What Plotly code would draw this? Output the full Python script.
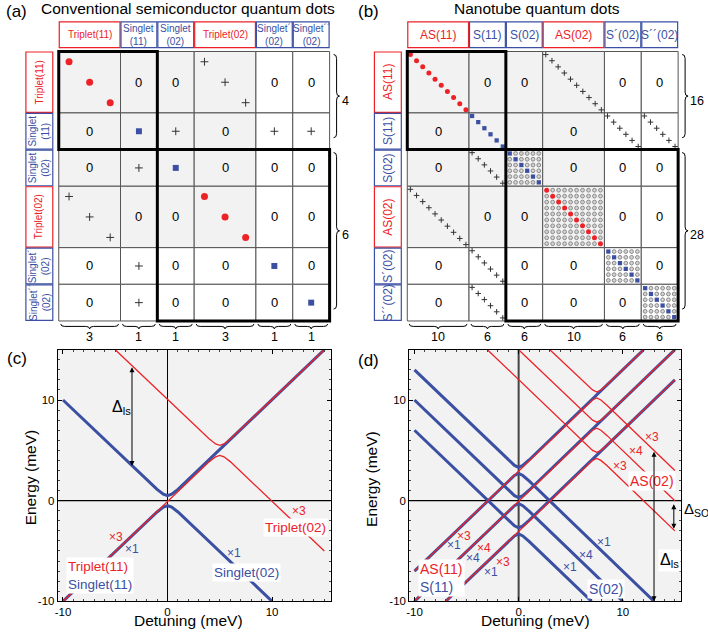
import plotly.graph_objects as go

W, H = 708, 641
RED = "#ec2227"
BLUE = "#3b50a3"
GREY = "#f2f2f2"
FONT = "Liberation Sans, Arial, Helvetica, sans-serif"

# ---------------------------------------------------------------------------
# Matrix data (panels a, b)
# ---------------------------------------------------------------------------
A_LABELS = ["Triplet(11)", "Singlet<br>(11)", "Singlet<br>(02)", "Triplet(02)",
            "Singlet´<br>(02)", "Singlet´´<br>(02)"]
A_KINDS = ["T", "S", "S", "T", "S", "S"]
A_DIMS = [3, 1, 1, 3, 1, 1]
A_GROUPS = [4, 6]
A_BLOCKS = [
    ["dr", "0", "0", "+", "0", "0"],
    ["0", "db", "+", "0", "+", "+"],
    ["0", "+", "db", "0", "0", "0"],
    ["+", "0", "0", "dr", "0", "0"],
    ["0", "+", "0", "0", "db", "0"],
    ["0", "+", "0", "0", "0", "db"],
]

B_LABELS = ["AS(11)", "S(11)", "S(02)", "AS(02)", "S´(02)", "S´´(02)"]
B_KINDS = ["T", "S", "S", "T", "S", "S"]
B_DIMS = [10, 6, 6, 10, 6, 6]
B_GROUPS = [16, 28]
B_BLOCKS = [
    ["dr", "0", "0", "+", "0", "0"],
    ["0", "db", "", "0", "+", "+"],
    ["0", "+", "fb", "0", "0", "0"],
    ["+", "0", "0", "fr", "0", "0"],
    ["0", "+", "0", "0", "fb", "0"],
    ["0", "+", "0", "0", "0", "fb"],
]

# ---------------------------------------------------------------------------
# Energy levels (meV) vs detuning (meV), panel c
# ---------------------------------------------------------------------------
C_BLUE_X = [[-10, -1, -0.4, 0, 0.4, 1, 15],
            [-10, -1, -0.4, 0, 0.4, 1, 10]]
C_BLUE_Y = [[10, 1.12, 0.64, 0.5, 0.64, 1.12, 15],
            [-10, -1.12, -0.64, -0.5, -0.64, -1.12, -10]]
C_RED_X = [[-5, 4, 4.6, 5, 5.4, 6, 15],
           [-10, 4, 4.6, 5, 5.4, 6, 15]]
C_RED_Y = [[15, 6.12, 5.64, 5.5, 5.64, 6.12, 15],
           [-10, 3.88, 4.36, 4.5, 4.36, 3.88, -5]]

# panel d
D_BLUE_X = [[-10, -1, -0.4, 0, 0.4, 1, 12],
            [-10, -1, -0.4, 0, 0.4, 1, 15],
            [-10, -1, -0.4, 0, 0.4, 1, 15],
            [-10, -1, -0.4, 0, 0.4, 1, 13],
            [-10, -1, -0.4, 0, 0.4, 1, 10],
            [-7, -1, -0.4, 0, 0.4, 1, 7]]
D_BLUE_Y = [[13, 4.04, 3.5, 3.3, 3.5, 4.04, 15],
            [10, 1.04, 0.5, 0.3, 0.5, 1.04, 15],
            [7, -1.96, -2.5, -2.7, -2.5, -1.96, 12],
            [-7, 1.96, 2.5, 2.7, 2.5, 1.96, -10],
            [-10, -1.04, -0.5, -0.3, -0.5, -1.04, -10],
            [-10, -4.04, -3.5, -3.3, -3.5, -4.04, -10]]
D_RED_X = [[3, 6.5, 7.1, 7.5, 7.9, 8.5, 12],
           [0, 6.5, 7.1, 7.5, 7.9, 8.5, 15],
           [-3, 6.5, 7.1, 7.5, 7.9, 8.5, 15],
           [-10, 6.5, 7.1, 7.5, 7.9, 8.5, 15],
           [-10, 6.5, 7.1, 7.5, 7.9, 8.5, 15],
           [-7, 6.5, 7.1, 7.5, 7.9, 8.5, 15]]
D_RED_Y = [[15, 11.54, 11.0, 10.8, 11.0, 11.54, 15],
           [15, 8.54, 8.0, 7.8, 8.0, 8.54, 15],
           [15, 5.54, 5.0, 4.8, 5.0, 5.54, 12],
           [-7, 9.46, 10.0, 10.2, 10.0, 9.46, 3],
           [-10, 6.46, 7.0, 7.2, 7.0, 6.46, 0],
           [-10, 3.46, 4.0, 4.2, 4.0, 3.46, -3]]

fig = go.Figure()
shapes = []
annos = []


def text_px(x, y, text, size, color="black", **kw):
    annos.append(dict(x=x, y=y, xref="x3", yref="y3", text=text, showarrow=False,
                      font=dict(size=size, color=color, family=FONT), **kw))


def rect_px(x0, y0, x1, y1, fill, color, width, layer="below"):
    shapes.append(dict(type="rect", xref="x3", yref="y3", x0=x0, y0=y0, x1=x1, y1=y1,
                       fillcolor=fill, line=dict(color=color, width=width), layer=layer))


def path_px(d):
    shapes.append(dict(type="path", xref="x3", yref="y3", path=d,
                       line=dict(color="black", width=1), layer="above"))


def matrix(x0, y0, labels, kinds, dims, blocks, groups, hdr, ms):
    big = max(dims)
    sizes = [62 if d == big else 37 for d in dims]
    xe, ye = [x0], [y0]
    for s in sizes:
        xe.append(xe[-1] + s)
        ye.append(ye[-1] + s)
    n = len(dims)
    marks = {k: ([], []) for k in ("dot", "sq", "plus", "ring")}

    for i in range(n):
        for j in range(n):
            fill = GREY if (i < 4 and j < 4) else "white"
            rect_px(xe[j], ye[i], xe[j + 1], ye[i + 1], fill, "#555", 1)
            b = blocks[i][j]
            d = dims[i]
            w, h = sizes[j], sizes[i]
            if b == "0":
                text_px((xe[j] + xe[j + 1]) / 2, (ye[i] + ye[i + 1]) / 2, "0", 13)
            elif b in ("+", "dr", "db"):
                key = {"+": "plus", "dr": "dot", "db": "sq"}[b]
                for k in range(d):
                    marks[key][0].append(xe[j] + (k + 0.5) * w / d)
                    marks[key][1].append(ye[i] + (k + 0.5) * h / d)
            elif b in ("fr", "fb"):
                for k in range(d):
                    for m in range(d):
                        key = ("dot" if b == "fr" else "sq") if k == m else "ring"
                        marks[key][0].append(xe[j] + 1 + (m + 0.5) * (w - 2) / d)
                        marks[key][1].append(ye[i] + 1 + (k + 0.5) * (h - 2) / d)

    # thick block borders
    acc, split = 0, 0
    while acc < groups[0]:
        acc += dims[split]
        split += 1
    rect_px(xe[0], ye[0], xe[split], ye[split], "rgba(0,0,0,0)", "black", 3, "above")
    rect_px(xe[split], ye[split], xe[n], ye[n], "rgba(0,0,0,0)", "black", 3, "above")

    # headers and row labels
    for j in range(n):
        col = RED if kinds[j] == "T" else BLUE
        rect_px(xe[j] + 0.5, y0 - 30, xe[j + 1] - 0.5, y0 - 4, "white", col, 1.2)
        text_px((xe[j] + xe[j + 1]) / 2, y0 - 17, labels[j], hdr, col)
        rect_px(x0 - 33, ye[j] + 0.5, x0 - 6, ye[j + 1] - 0.5, "white", col, 1.2)
        text_px(x0 - 19.5, (ye[j] + ye[j + 1]) / 2, labels[j], hdr, col, textangle=-90)

    # bottom braces with dimensions
    yb = ye[n] + 3
    for j in range(n):
        a, c = xe[j] + 2, xe[j + 1] - 2
        m = (a + c) / 2
        path_px(f"M {a},{yb} Q {a},{yb+2.5} {a+4},{yb+2.5} L {m-4},{yb+2.5} "
                f"Q {m},{yb+2.5} {m},{yb+5} Q {m},{yb+2.5} {m+4},{yb+2.5} "
                f"L {c-4},{yb+2.5} Q {c},{yb+2.5} {c},{yb}")
        text_px(m, ye[n] + 16, str(dims[j]), 12.5)

    # right braces with group sizes
    xr = xe[n] + 4
    for (r0, r1), g in zip([(0, split), (split, n)], groups):
        a, c = ye[r0] + 3, ye[r1] - 12
        m = (a + c) / 2
        path_px(f"M {xr},{a} Q {xr+3},{a} {xr+3},{a+4} L {xr+3},{m-4} "
                f"Q {xr+3},{m} {xr+6},{m} Q {xr+3},{m} {xr+3},{m+4} "
                f"L {xr+3},{c-4} Q {xr+3},{c} {xr},{c}")
        text_px(xr + 7, (ye[r0] + ye[r1]) / 2, str(g), 12.5, xanchor="left",
                borderpad=0)

    styles = {
        "ring": dict(symbol="circle", size=ms * 0.75, color="#d4d4d4",
                     line=dict(color="#8a8a8a", width=1)),
        "dot": dict(symbol="circle", size=ms, color=RED, line=dict(width=0)),
        "sq": dict(symbol="square", size=ms * 0.85, color=BLUE, line=dict(width=0)),
        "plus": dict(symbol="cross-thin", size=ms * 0.8, color="#333",
                     line=dict(color="#333", width=1)),
    }
    for key, (xs, ys) in marks.items():
        if xs:
            fig.add_trace(go.Scatter(x=xs, y=ys, mode="markers", marker=styles[key],
                                     xaxis="x3", yaxis="y3", hoverinfo="skip"))


matrix(56, 52, A_LABELS, A_KINDS, A_DIMS, A_BLOCKS, A_GROUPS, 10, 7)
matrix(406, 52, B_LABELS, B_KINDS, B_DIMS, B_BLOCKS, B_GROUPS, 12, 5)

text_px(1, 12, "(a)", 17, xanchor="left")
text_px(186, 9, "Conventional semiconductor quantum dots", 15.5)
text_px(354, 12, "(b)", 17, xanchor="left")
text_px(536, 9, "Nanotube quantum dots", 15.5)
text_px(2, 362, "(c)", 17, xanchor="left")
text_px(354, 364, "(d)", 17, xanchor="left")

# axis titles
text_px(186, 626, "Detuning (meV)", 15.5)
text_px(535, 626, "Detuning (meV)", 15.5)
text_px(28, 482, "Energy (meV)", 15.5, textangle=-90)
text_px(370, 483, "Energy (meV)", 15.5, textangle=-90)
text_px(683, 514, "Δ<sub>SO</sub>", 15, xanchor="left", borderpad=0)


# ---------------------------------------------------------------------------
# Energy panels
# ---------------------------------------------------------------------------
def curves(xs_list, ys_list, color, width, xa, ya):
    for xs, ys in zip(xs_list, ys_list):
        fig.add_trace(go.Scatter(x=xs, y=ys, mode="lines",
                                 line=dict(color=color, width=width),
                                 xaxis=xa, yaxis=ya, hoverinfo="skip"))


for xa, ya, vcol, vw in (("x", "y", "black", 1), ("x2", "y2", "#444", 2)):
    sfx = xa[1:]
    shapes.append(dict(type="rect", xref=f"x{sfx} domain", yref=f"y{sfx} domain",
                       x0=0, x1=1, y0=0, y1=1, fillcolor=GREY, line=dict(width=0),
                       layer="below"))
    shapes.append(dict(type="line", xref=xa, yref=f"y{sfx} domain", x0=0, x1=0,
                       y0=0, y1=1, line=dict(color=vcol, width=vw), layer="below"))
    shapes.append(dict(type="line", xref=f"x{sfx} domain", yref=ya, x0=0, x1=1,
                       y0=0, y1=0, line=dict(color="black", width=1.2), layer="below"))

curves(C_BLUE_X, C_BLUE_Y, BLUE, 3, "x", "y")
curves(C_RED_X, C_RED_Y, RED, 1.3, "x", "y")
curves(D_BLUE_X, D_BLUE_Y, BLUE, 3, "x2", "y2")
curves(D_RED_X, D_RED_Y, RED, 1.3, "x2", "y2")


def note(xa, ya, x, y, text, color, size=12, **kw):
    annos.append(dict(x=x, y=y, xref=xa, yref=ya, text=text, showarrow=False,
                      font=dict(size=size, color=color, family=FONT), **kw))


def span(text, color):
    return f"<span style='color:{color}'>{text}</span>"


def darrow(xa, ya, x, y0, y1):
    annos.append(dict(x=x, y=y0, ax=x, ay=y1, xref=xa, yref=ya, axref=xa, ayref=ya,
                      text="", showarrow=True, arrowhead=2, arrowside="end+start",
                      arrowsize=1, arrowwidth=1, arrowcolor="black"))


# panel c labels
note("x", "y", -4.9, -3.6, "×3", RED)
note("x", "y", -3.4, -4.8, "×1", BLUE)
note("x", "y", 12.6, -1.0, "×3", RED)
note("x", "y", 6.4, -5.2, "×1", BLUE)
note("x", "y", -6.5, -7.4, span("Triplet(11)", RED) + "<br>" + span("Singlet(11)", BLUE),
     "black", 13.5, align="left", bgcolor="white", borderpad=1)
note("x", "y", 12.2, -2.7, "Triplet(02)", RED, 13.5, bgcolor="white", borderpad=1)
note("x", "y", 7.6, -7.1, "Singlet(02)", BLUE, 13.5, bgcolor="white", borderpad=1)
darrow("x", "y", -3.4, 3.44, 13.4)
note("x", "y", -5.5, 9.3, "Δ<sub>ls</sub>", "black", 16, xanchor="left")

# panel d labels
note("x2", "y2", 12.8, 6.3, "×3", RED)
note("x2", "y2", 11.3, 4.9, "×4", RED)
note("x2", "y2", 9.7, 3.4, "×3", RED)
note("x2", "y2", 12.8, 2.0, "AS(02)", RED, 14, bgcolor="white", borderpad=1)
note("x2", "y2", -5.2, -3.5, "×3", RED)
note("x2", "y2", -6.2, -4.4, "×1", BLUE)
note("x2", "y2", -3.3, -4.7, "×4", RED)
note("x2", "y2", -4.4, -5.7, "×4", BLUE)
note("x2", "y2", -1.5, -6.1, "×3", RED)
note("x2", "y2", -2.7, -7.1, "×1", BLUE)
note("x2", "y2", 8.2, -4.1, "×1", BLUE)
note("x2", "y2", 6.5, -5.4, "×4", BLUE)
note("x2", "y2", 4.9, -6.6, "×1", BLUE)
note("x2", "y2", -7.4, -7.7, span("AS(11)", RED) + "<br>" + span("S(11)", BLUE),
     "black", 14, align="left", bgcolor="white", borderpad=1)
note("x2", "y2", 8.4, -8.8, "S(02)", BLUE, 14, bgcolor="white", borderpad=1)
darrow("x2", "y2", 13.0, -10, 5)
darrow("x2", "y2", 14.9, -2.8, -0.2)
note("x2", "y2", 13.4, -5.9, "Δ<sub>ls</sub>", "black", 16, xanchor="left",
     bgcolor="white")

axis_common = dict(
    showline=True, linecolor="black", linewidth=1, mirror="allticks",
    ticks="inside", ticklen=4, tickcolor="black", showgrid=False, zeroline=False,
    tickvals=[-10, 0, 10], ticktext=["-10", "0", "10"],
    tickfont=dict(size=11.5, family=FONT),
    minor=dict(ticks="inside", ticklen=2, tick0=0, dtick=1, tickcolor="#444"),
)

fig.update_layout(
    width=W, height=H,
    margin=dict(l=0, r=0, t=0, b=0),
    paper_bgcolor="white",
    plot_bgcolor="rgba(0,0,0,0)",
    showlegend=False,
    font=dict(family=FONT, color="black"),
    xaxis=dict(axis_common, range=[-10.5, 15.6], domain=[55 / W, 329 / W], anchor="y"),
    yaxis=dict(axis_common, range=[-10, 15], domain=[1 - 607 / H, 1 - 353 / H],
               anchor="x"),
    xaxis2=dict(axis_common, range=[-10.5, 15.6], domain=[408 / W, 681 / W],
                anchor="y2"),
    yaxis2=dict(axis_common, range=[-10, 15], domain=[1 - 607 / H, 1 - 353 / H],
                anchor="x2"),
    xaxis3=dict(domain=[0, 1], range=[0, W], visible=False, anchor="y3", fixedrange=True),
    yaxis3=dict(domain=[0, 1], range=[H, 0], visible=False, anchor="x3", fixedrange=True),
    shapes=shapes,
    annotations=annos,
)

# the page body has a default 8 px margin; drop it so the figure fills the window
fig.write_html("out.html",
               config={"displayModeBar": False},
               post_script="document.body.style.margin='0';"
                           "document.body.style.overflow='hidden';")
